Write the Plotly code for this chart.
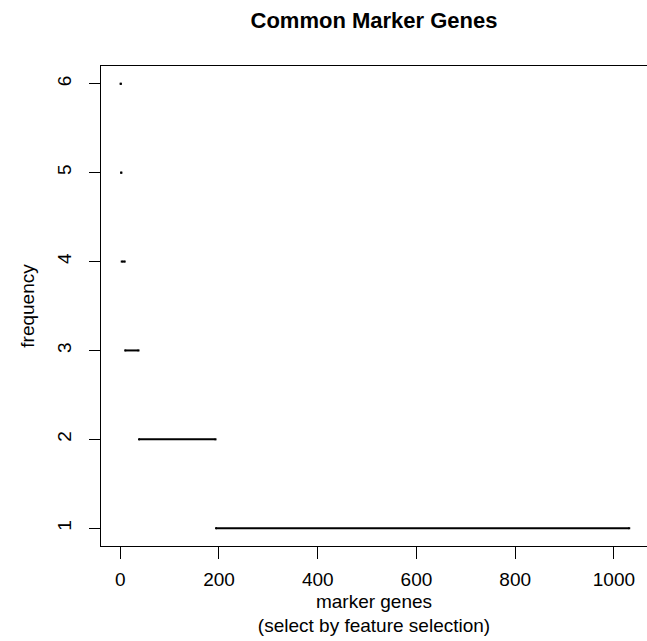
import plotly.graph_objects as go

# frequency level and the range of gene indices (sorted by frequency) at that level
freq_levels = [6, 5, 4, 3, 2, 1]
first_gene = [1, 2, 3, 10, 38, 194]
last_gene = [1, 2, 9, 37, 193, 1031]

x_ticks = [0, 200, 400, 600, 800, 1000]
y_ticks = [1, 2, 3, 4, 5, 6]

FONT = "Liberation Sans, Arial, Helvetica, sans-serif"

fig = go.Figure()
for f, a, b in zip(freq_levels, first_gene, last_gene):
    fig.add_trace(go.Scatter(
        x=[a, b], y=[f, f], mode="lines+markers",
        line=dict(color="black", width=2),
        marker=dict(color="black", size=2, symbol="square"),
        showlegend=False, hoverinfo="x+y",
    ))

fig.update_layout(
    width=647, height=641,
    margin=dict(l=101, r=0, t=66, b=95),
    paper_bgcolor="white", plot_bgcolor="white",
    font=dict(family=FONT, size=19, color="black"),
    title=dict(text="<b>Common Marker Genes</b>", x=0.5, xref="paper", xanchor="center",
               y=1 - 20 / 641, yref="container", yanchor="middle",
               font=dict(family=FONT, size=22, color="black")),
    xaxis=dict(range=[-39, 1067], tickvals=x_ticks, ticktext=[str(v) for v in x_ticks],
               showgrid=False, zeroline=False, showline=True, linecolor="black", linewidth=1,
               mirror=True, ticks="outside", ticklen=12, tickcolor="black", tickwidth=1,
               ticklabelstandoff=4,
               title=dict(text="marker genes<br>(select by feature selection)", standoff=5,
                          font=dict(family=FONT, size=19))),
    yaxis=dict(range=[0.8, 6.2], tickvals=y_ticks, ticktext=[str(v) for v in y_ticks],
               showgrid=False, zeroline=False, showline=True, linecolor="black", linewidth=1,
               mirror=False, ticks="outside", ticklen=11, tickcolor="black", tickwidth=1,
               tickangle=-90, ticklabelstandoff=10,
               title=dict(text="frequency", standoff=14, font=dict(family=FONT, size=19))),
)

fig.write_html("out.html")
